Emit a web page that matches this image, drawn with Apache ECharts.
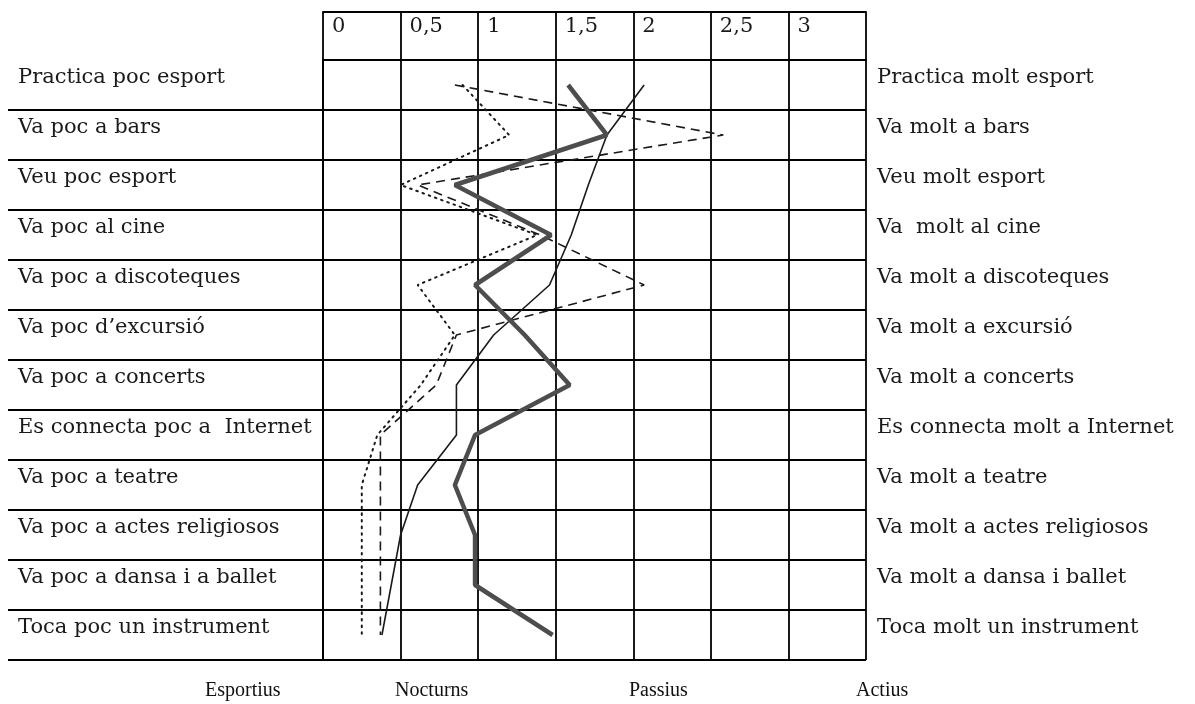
<!DOCTYPE html>
<html>
<head>
<meta charset="utf-8">
<script src="https://cdn.jsdelivr.net/npm/echarts@6.0.0/dist/echarts.min.js"></script>
<style>
  html, body { margin: 0; padding: 0; background: #ffffff; }
  #chart { width: 1195px; height: 704px; }
</style>
</head>
<body>
<div id="chart"></div>
<script>
// ---- data ----
const leftLabels = [
  'Practica poc esport',
  'Va poc a bars',
  'Veu poc esport',
  'Va poc al cine',
  'Va poc a discoteques',
  'Va poc d\u2019excursió',
  'Va poc a concerts',
  'Es connecta poc a  Internet',
  'Va poc a teatre',
  'Va poc a actes religiosos',
  'Va poc a dansa i a ballet',
  'Toca poc un instrument'
];
const rightLabels = [
  'Practica molt esport',
  'Va molt a bars',
  'Veu molt esport',
  'Va  molt al cine',
  'Va molt a discoteques',
  'Va molt a excursió',
  'Va molt a concerts',
  'Es connecta molt a Internet',
  'Va molt a teatre',
  'Va molt a actes religiosos',
  'Va molt a dansa i ballet',
  'Toca molt un instrument'
];
const seriesNames = ['Esportius', 'Nocturns', 'Passius', 'Actius'];
const esportius = [2.07, 1.83, 1.71, 1.60, 1.46, 1.10, 0.86, 0.86, 0.61, 0.50, 0.44, 0.38];
const nocturns  = [0.85, 2.58, 0.61, 1.40, 2.07, 0.86, 0.73, 0.37, 0.37, 0.37, 0.37, 0.37];
const passius   = [0.90, 1.20, 0.50, 1.38, 0.61, 0.85, 0.63, 0.35, 0.25, 0.25, 0.25, 0.25];
const actius    = [1.58, 1.83, 0.85, 1.47, 0.98, 1.30, 1.59, 0.98, 0.85, 0.98, 0.98, 1.48];
const scaleMin = 0, scaleMax = 3.5, scaleStep = 0.5;

// ---- chart ----
const chart = echarts.init(document.getElementById('chart'), null, { renderer: 'canvas' });
const ink = '#111111';
const gridLine = { color: '#000000', width: 1.8 };
const labelFont = { fontFamily: 'DejaVu Serif', fontSize: 21, color: '#1a1a1a' };
const toPairs = arr => arr.map((v, i) => [v, i]);

const legendStyle = {
  icon: 'none', itemWidth: 0, itemHeight: 14, itemGap: 0, top: 681, padding: 0,
  textStyle: { fontFamily: 'Liberation Serif', fontSize: 20, color: ink }
};

const option = {
  backgroundColor: '#ffffff',
  animation: false,
  grid: {
    left: 323, top: 60, width: 543, height: 600,
    containLabel: false, outerBoundsMode: 'none'
  },
  legend: [
    Object.assign({ data: ['Esportius'], left: 200 }, legendStyle),
    Object.assign({ data: ['Nocturns'], left: 390 }, legendStyle),
    Object.assign({ data: ['Passius'], left: 624 }, legendStyle),
    Object.assign({ data: ['Actius'], left: 851 }, legendStyle)
  ],
  xAxis: [
    {
      type: 'value', position: 'top', min: scaleMin, max: scaleMax, interval: scaleStep,
      axisLine: { show: true, lineStyle: gridLine },
      axisTick: { show: true, length: 48, lineStyle: gridLine },
      splitLine: { show: true, lineStyle: gridLine },
      axisLabel: {
        show: true, margin: 23, align: 'left', padding: [0, 0, 0, 9],
        fontFamily: 'DejaVu Serif', fontSize: 21, color: '#1a1a1a',
        formatter: v => (v >= scaleMax ? '' : String(v).replace('.', ','))
      }
    },
    {
      type: 'value', position: 'top', offset: 48, min: scaleMin, max: scaleMax,
      axisLine: { show: true, lineStyle: gridLine },
      axisTick: { show: false }, axisLabel: { show: false }, splitLine: { show: false }
    }
  ],
  yAxis: [
    {
      type: 'category', data: leftLabels, inverse: true, position: 'left',
      axisLine: { show: true, lineStyle: gridLine },
      axisTick: { show: true, length: 315, interval: (i) => i !== 0, lineStyle: gridLine },
      splitLine: { show: true, lineStyle: gridLine },
      axisLabel: Object.assign({
        interval: 0, align: 'left', margin: 305, verticalAlign: 'bottom', lineHeight: 15
      }, labelFont)
    },
    {
      type: 'category', data: rightLabels, inverse: true, position: 'right',
      axisLine: { show: true, lineStyle: gridLine },
      axisTick: { show: true, length: 317, interval: (i) => i !== 0, lineStyle: gridLine },
      splitLine: { show: false },
      axisLabel: Object.assign({
        interval: 0, align: 'left', margin: 11, verticalAlign: 'bottom', lineHeight: 15
      }, labelFont)
    }
  ],
  series: [
    {
      name: seriesNames[0], type: 'line', data: toPairs(esportius),
      xAxisIndex: 0, yAxisIndex: 0, symbol: 'none', z: 3,
      lineStyle: { color: '#1a1a1a', width: 1.6, type: 'solid' },
      itemStyle: { color: '#1a1a1a' }
    },
    {
      name: seriesNames[1], type: 'line', data: toPairs(nocturns),
      xAxisIndex: 0, yAxisIndex: 0, symbol: 'none', z: 3,
      lineStyle: { color: '#1a1a1a', width: 1.6, type: [9, 6] },
      itemStyle: { color: '#1a1a1a' }
    },
    {
      name: seriesNames[2], type: 'line', data: toPairs(passius),
      xAxisIndex: 0, yAxisIndex: 0, symbol: 'none', z: 3,
      lineStyle: { color: '#1a1a1a', width: 2, type: [1.6, 5], cap: 'round' },
      itemStyle: { color: '#1a1a1a' }
    },
    {
      name: seriesNames[3], type: 'line', data: toPairs(actius),
      xAxisIndex: 0, yAxisIndex: 0, symbol: 'none', z: 4,
      lineStyle: { color: '#4d4d4d', width: 4.5, type: 'solid' },
      itemStyle: { color: '#4d4d4d' }
    }
  ]
};
chart.setOption(option);
</script>
</body>
</html>
